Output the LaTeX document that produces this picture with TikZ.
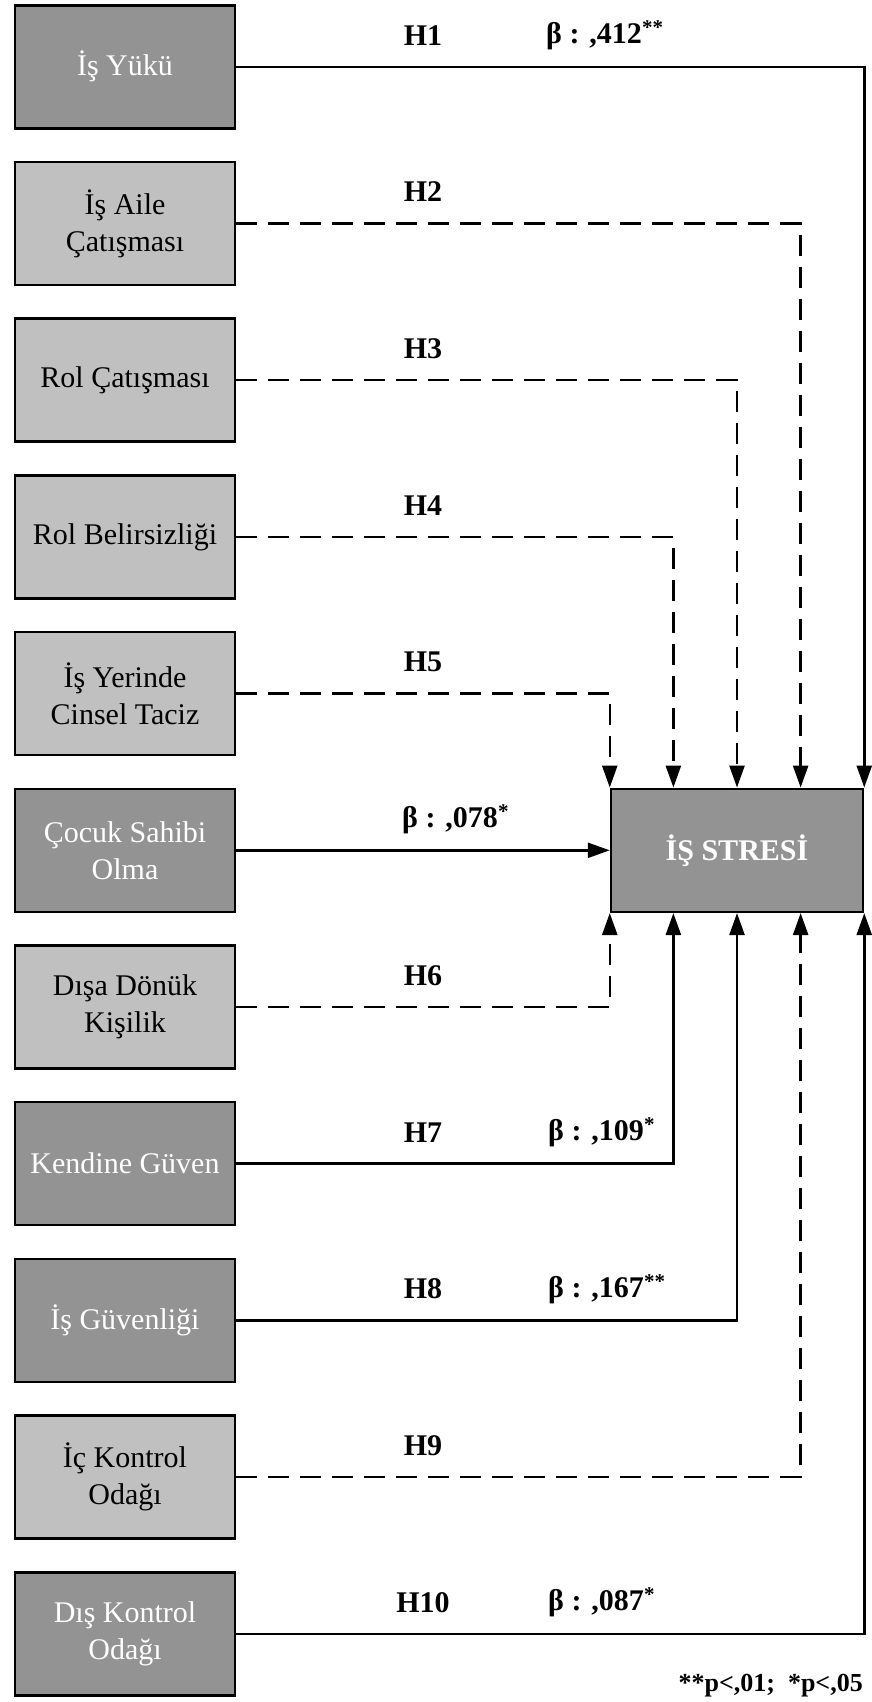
\documentclass[tikz,border=0pt]{standalone}
\usepackage{fontspec}
\setmainfont{Liberation Serif}
\usetikzlibrary{arrows.meta,calc}
\definecolor{darkbox}{HTML}{939393}
\definecolor{lightbox}{HTML}{C0C0C0}
\tikzset{
  box/.style={draw=black, line width=2.5pt, minimum width=220pt, minimum height=123pt,
    align=center, inner sep=2pt, font=\fontsize{30}{37}\selectfont},
  darkb/.style={box, fill=darkbox, text=white},
  lightb/.style={box, fill=lightbox, text=black},
  target/.style={draw=black, line width=2.5pt, minimum width=252pt, minimum height=123pt,
    fill=darkbox, text=white, font=\bfseries\fontsize{30}{37}\selectfont},
  lab/.style={font=\bfseries\fontsize{30}{36}\selectfont, inner sep=0pt},
  conn/.style={line width=2.5pt, -{Triangle[length=22pt,width=15pt]}},
  dashconn/.style={conn, dash pattern=on 21pt off 11pt},
}
\begin{document}
\begin{tikzpicture}[x=1pt,y=-1pt]
\useasboundingbox[fill=white] (0,0) rectangle (872,1702);
% source boxes
\node[darkb]  (b0)  at (125,  66.8) {İş Yükü};
\node[lightb] (b1)  at (125, 223.5) {İş Aile\\Çatışması};
\node[lightb] (b2)  at (125, 380.2) {Rol Çatışması};
\node[lightb] (b3)  at (125, 536.9) {Rol Belirsizliği};
\node[lightb] (b4)  at (125, 693.6) {İş Yerinde\\Cinsel Taciz};
\node[darkb]  (b5)  at (125, 850.3) {Çocuk Sahibi\\Olma};
\node[lightb] (b6)  at (125,1007.0) {Dışa Dönük\\Kişilik};
\node[darkb]  (b7)  at (125,1163.7) {Kendine Güven};
\node[darkb]  (b8)  at (125,1320.4) {İş Güvenliği};
\node[lightb] (b9)  at (125,1477.1) {İç Kontrol\\Odağı};
\node[darkb]  (b10) at (125,1633.8) {Dış Kontrol\\Odağı};
% target
\node[target] (t) at (737,850.3) {İŞ STRESİ};
\coordinate (n1) at (t.north west);
\coordinate (n2) at ($(t.north west)!0.25!(t.north east)$);
\coordinate (n3) at ($(t.north west)!0.5!(t.north east)$);
\coordinate (n4) at ($(t.north west)!0.75!(t.north east)$);
\coordinate (n5) at (t.north east);
\coordinate (s1) at (t.south west);
\coordinate (s2) at ($(t.south west)!0.25!(t.south east)$);
\coordinate (s3) at ($(t.south west)!0.5!(t.south east)$);
\coordinate (s4) at ($(t.south west)!0.75!(t.south east)$);
\coordinate (s5) at (t.south east);
% connectors
\draw[conn]     (b0.east) -| (n5);
\draw[dashconn] (b1.east) -| (n4);
\draw[dashconn] (b2.east) -| (n3);
\draw[dashconn] (b3.east) -| (n2);
\draw[dashconn] (b4.east) -| (n1);
\draw[conn]     (b5.east) -- (t.west);
\draw[dashconn] (b6.east) -| (s1);
\draw[conn]     (b7.east) -| (s2);
\draw[conn]     (b8.east) -| (s3);
\draw[dashconn] (b9.east) -| (s4);
\draw[conn]     (b10.east) -| (s5);
% labels
\node[lab] (h1)  at (423,  35.3) {H1};
\node[lab, anchor=west] (v1) at (546, 35.3) {β : ,412\textsuperscript{**}};
\node[lab] (h2)  at (423, 192.0) {H2};
\node[lab] (h3)  at (423, 348.7) {H3};
\node[lab] (h4)  at (423, 505.4) {H4};
\node[lab] (h5)  at (423, 662.1) {H5};
\node[lab, anchor=west] (v5) at (402, 818.8) {β : ,078\textsuperscript{*}};
\node[lab] (h6)  at (423, 975.5) {H6};
\node[lab] (h7)  at (423,1132.2) {H7};
\node[lab, anchor=west] (v7) at (548,1132.2) {β : ,109\textsuperscript{*}};
\node[lab] (h8)  at (423,1288.9) {H8};
\node[lab, anchor=west] (v8) at (548,1288.9) {β : ,167\textsuperscript{**}};
\node[lab] (h9)  at (423,1445.6) {H9};
\node[lab] (h10) at (423,1602.3) {H10};
\node[lab, anchor=west] (v10) at (548,1602.3) {β : ,087\textsuperscript{*}};
\node[anchor=east, inner sep=0pt, font=\bfseries\fontsize{26}{30}\selectfont] (fn) at (863,1686) {**p<,01;\ \ *p<,05};
\end{tikzpicture}
\end{document}
